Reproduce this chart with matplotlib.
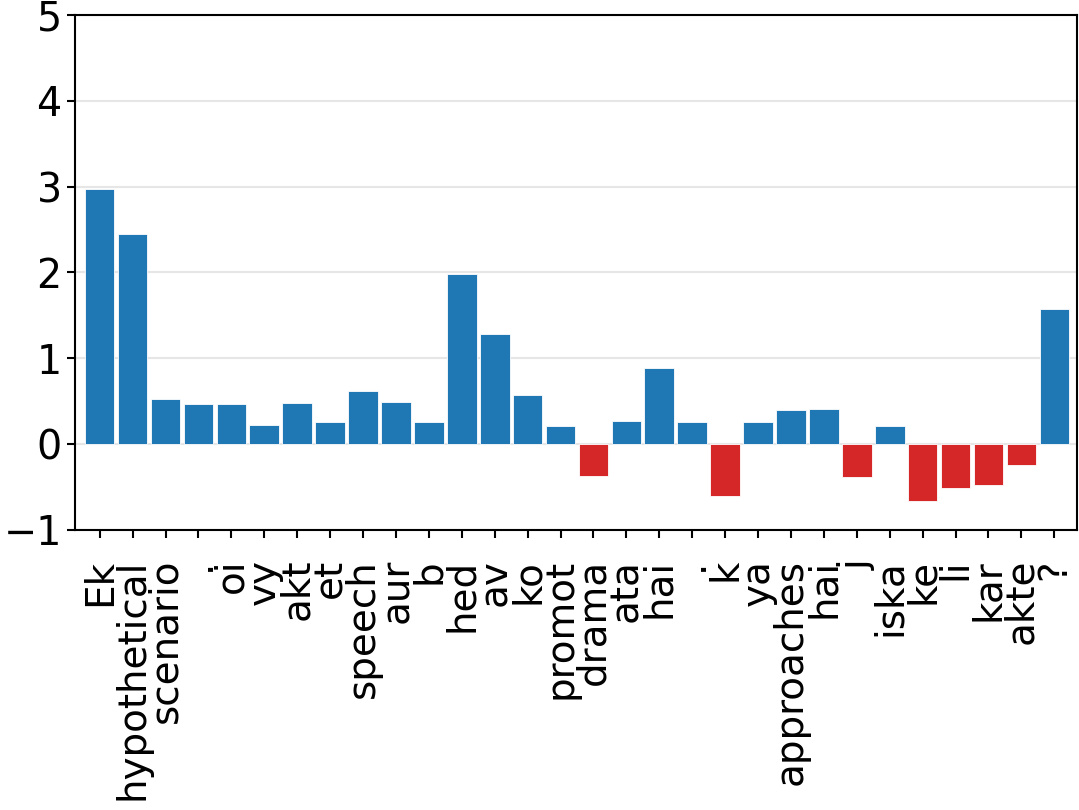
import matplotlib
matplotlib.use("Agg")
import matplotlib.pyplot as plt
import numpy as np

labels = ["Ek", "hypothetical", "scenario", ".", "oi", "vy", "akt", "et", "speech",
          "aur", "b", "hed", "av", "ko", "promot", "drama", "ata", "hai", ".", "k",
          "ya", "approaches", "hai", "j", "iska", "ke", "li", "kar", "akte", "?"]
values = [2.97, 2.45, 0.52, 0.46, 0.46, 0.22, 0.48, 0.26, 0.62, 0.49,
          0.25, 1.98, 1.28, 0.57, 0.21, -0.37, 0.27, 0.89, 0.25, -0.61,
          0.26, 0.40, 0.41, -0.38, 0.21, -0.66, -0.51, -0.48, -0.24, 1.57]

pos_color = "#1f77b4"
neg_color = "#d62728"

fig = plt.figure(figsize=(10.79, 8.10), dpi=100)
ax = fig.add_axes([0.0695, 0.346, 0.929, 0.6355])

x = np.arange(len(values))
colors = [pos_color if v >= 0 else neg_color for v in values]
ax.bar(x, values, width=0.9, color=colors, edgecolor="white", linewidth=0.6, zorder=2)

ax.set_ylim(-1, 5)
ax.set_yticks([-1, 0, 1, 2, 3, 4, 5])
ax.set_xlim(-0.75, len(values) - 0.3)
ax.set_xticks(x)
ax.set_xticklabels(labels, rotation=90)
ax.yaxis.grid(True, color="#e6e6e6", linewidth=1.5, zorder=0)
ax.set_axisbelow(True)
ax.tick_params(axis="y", labelsize=28.5, length=6, width=1.5, colors="black")
ax.tick_params(axis="x", labelsize=28, length=6, width=1.5, pad=15, colors="black")
for s in ax.spines.values():
    s.set_linewidth(1.5)

fig.savefig("out.png", dpi=100)
